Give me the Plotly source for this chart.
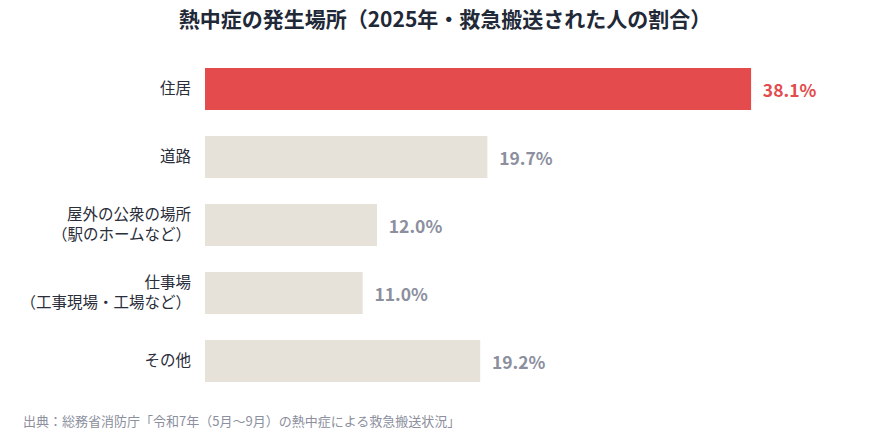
import plotly.graph_objects as go

categories = ["住居", "道路", "屋外の公衆の場所<br>（駅のホームなど）", "仕事場<br>（工事現場・工場など）", "その他"]
values = [38.1, 19.7, 12.0, 11.0, 19.2]
bar_colors = ["#e34b4d", "#e6e1d9", "#e6e1d9", "#e6e1d9", "#e6e1d9"]
label_colors = ["#e34b4d", "#8c8f9e", "#8c8f9e", "#8c8f9e", "#8c8f9e"]

F = "Noto Sans CJK JP"
L, R, T, B = 190, 32, 47, 52
W, H = 874, 439
fig = go.Figure(go.Bar(
    x=values, y=categories, orientation="h",
    marker=dict(color=bar_colors, line=dict(width=0)),
    text=[f"\u2002{v:.1f}%" for v in values], textposition="outside",
    textfont=dict(family=F, size=17.5, color=label_colors, weight="bold"),
    cliponaxis=False, hoverinfo="skip",
))
fig.update_layout(
    width=W, height=H, margin=dict(l=L, r=R, t=T, b=B),
    paper_bgcolor="white", plot_bgcolor="white", bargap=0.38, showlegend=False,
    font=dict(family=F, color="#2a2d3a"),
    title=dict(text="熱中症の発生場所（2025年・救急搬送された人の割合）", x=0.5, xanchor="center",
               y=(H - 12) / H, yanchor="middle",
               font=dict(family=F, size=21, color="#1f2937", weight="bold")),
    xaxis=dict(range=[0, 45], visible=False, fixedrange=True),
    yaxis=dict(autorange="reversed", tickfont=dict(family=F, size=15.5, color="#2a2d3a"),
               ticks="", showline=False, showgrid=False, ticklabelstandoff=13),
    annotations=[dict(text="出典：総務省消防庁「令和7年（5月〜9月）の熱中症による救急搬送状況」",
                      x=(4 - L) / (W - L - R), y=(H - B - 412) / (H - T - B),
                      xref="paper", yref="paper", showarrow=False,
                      xanchor="left", yanchor="middle",
                      font=dict(family=F, size=13, color="#8c8f9e"))],
)
fig.write_html("out.html")
